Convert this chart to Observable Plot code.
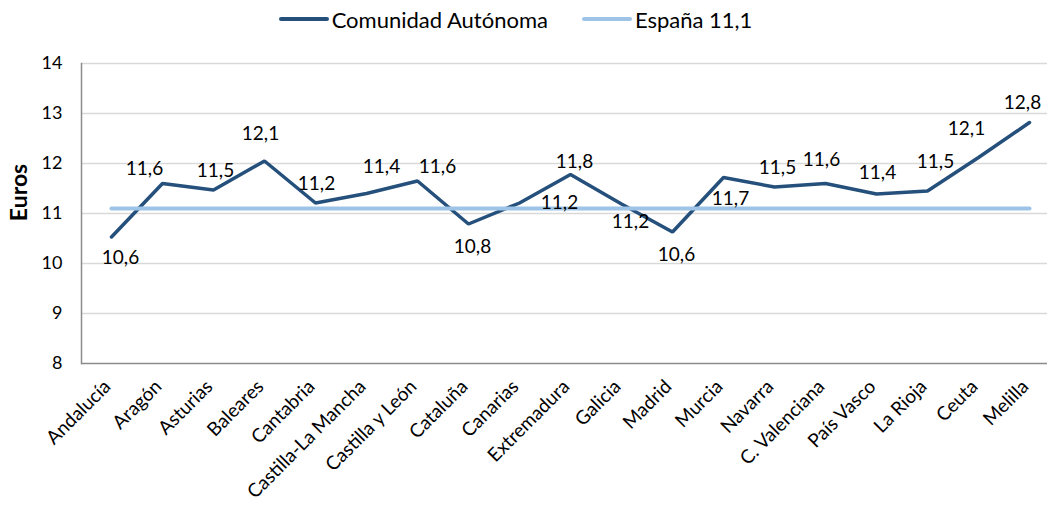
<!DOCTYPE html>
<html><head><meta charset="utf-8">
<script src="https://cdn.jsdelivr.net/npm/d3@7"></script>
<script src="https://cdn.jsdelivr.net/npm/@observablehq/plot@0.6"></script>
<style>
body{margin:0;background:#fff;font-family:Lato, sans-serif;}
#legend{height:38px;display:flex;justify-content:center;align-items:center;gap:34px;font-size:22px;color:#000;padding-right:16px;}
.item{display:flex;align-items:center;}
.sw{width:50px;height:4px;margin-right:3px;border-radius:2px;}
#chart svg{display:block;}
</style></head><body>
<div id="legend"></div>
<div id="chart"></div>
<script>
const regions = ["Andalucía","Aragón","Asturias","Baleares","Cantabria","Castilla-La Mancha","Castilla y León","Cataluña","Canarias","Extremadura","Galicia","Madrid","Murcia","Navarra","C. Valenciana","País Vasco","La Rioja","Ceuta","Melilla"];
const values = [10.53,11.6,11.47,12.05,11.21,11.4,11.65,10.79,11.21,11.78,11.19,10.63,11.72,11.53,11.6,11.39,11.45,12.12,12.82];
const labelText = ["10,6","11,6","11,5","12,1","11,2","11,4","11,6","10,8","11,2","11,8","11,2","10,6","11,7","11,5","11,6","11,4","11,5","12,1","12,8"];
const spainValue = 11.1;
const yTicks = [8,9,10,11,12,13,14];
const seriesNames = ["Comunidad Autónoma","España 11,1"];
// label placement offsets (pixels) relative to each point
const labelDx = [9,-18,2,-4,1,15,20,4,40,4,9,4,7,3,-4,1,8,-12,-7];
const labelDy = [21,-15,-19,-27,-19,-27,-14,23,0,-13,18,23,21,-19,-24,-21,-29,-29,-20];

const darkColor = "#25507B", lightColor = "#9DC3E6";

const legend = document.getElementById("legend");
[[seriesNames[0], darkColor],[seriesNames[1], lightColor]].forEach(([n,c])=>{
  const it = document.createElement("div"); it.className="item";
  const sw = document.createElement("div"); sw.className="sw"; sw.style.background=c;
  const t = document.createElement("span"); t.textContent=n;
  it.appendChild(sw); it.appendChild(t); legend.appendChild(it);
});

const data = regions.map((r,i)=>({region:r, value:values[i], label:labelText[i], dx:labelDx[i], dy:labelDy[i]}));
const spain = regions.map(r=>({region:r, value:spainValue}));

const chart = Plot.plot({
  width:1047, height:469, marginLeft:81, marginRight:0, marginTop:25, marginBottom:144,
  style:{fontFamily:"Lato, sans-serif", fontSize:"18px", color:"#000", background:"#fff", overflow:"visible"},
  x:{type:"point", domain:regions, range:[106.7,1033.7], padding:0},
  y:{domain:[8,14]},
  marks:[
    Plot.ruleY(yTicks.filter(t=>t>8), {stroke:"#d9d9d9", strokeWidth:1.5}),
    Plot.ruleY([8], {stroke:"#8c8c8c", strokeWidth:1.5}),
    Plot.frame({anchor:"left", stroke:"#8c8c8c", strokeWidth:1.5}),
    Plot.axisY({ticks:yTicks, tickFormat:d3.format("d"), tickSize:0, tickPadding:19, label:null, fontSize:18}),
    Plot.axisX({tickRotate:-45, tickSize:0, tickPadding:20, dx:-4, label:null, fontSize:19}),
    Plot.text(["Euros"], {frameAnchor:"left", textAnchor:"middle", rotate:-90, dx:-62, dy:-21, fontWeight:"bold", fontSize:23}),
    Plot.lineY(data, {x:"region", y:"value", stroke:darkColor, strokeWidth:3.5, strokeLinecap:"round", strokeLinejoin:"miter"}),
    Plot.lineY(spain, {x:"region", y:"value", stroke:lightColor, strokeWidth:4, strokeLinecap:"round"}),
    ...data.map(d => Plot.text([d], {x:"region", y:"value", text:"label", dx:d.dx, dy:d.dy, fontSize:19, fill:"#000"}))
  ]
});
document.getElementById("chart").appendChild(chart);
</script>
</body></html>
